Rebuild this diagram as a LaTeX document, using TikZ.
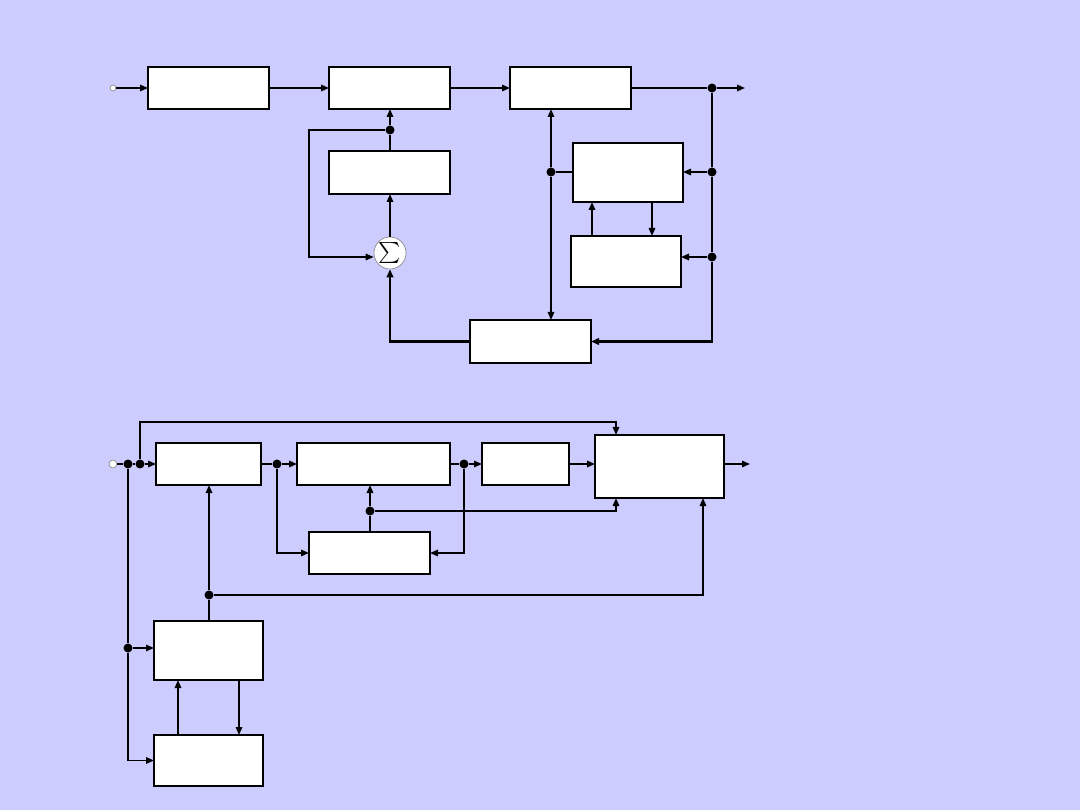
\documentclass[tikz,border=0pt]{standalone}
\usetikzlibrary{arrows.meta}
\usepackage{graphicx}
\definecolor{bg}{HTML}{CCCCFF}
\begin{document}
\begin{tikzpicture}[x=1pt,y=-1pt,
  box/.style={draw, fill=white, line width=1.5pt, inner sep=0pt, outer sep=0pt, anchor=north west},
  dot/.style={circle, fill=black, inner sep=0pt, minimum size=9pt},
  port/.style={circle, draw=gray, fill=white, line width=0.6pt, inner sep=0pt, minimum size=#1},
  port/.default=6pt,
  sig/.style={circle, draw=gray, fill=white, line width=0.6pt, inner sep=0pt, minimum size=32pt},
  ln/.style={line width=1.5pt},
  thk/.style={line width=2.3pt},
  arr/.style={ln, -{Triangle[length=8pt,width=6.5pt]}}]
\fill[bg] (0,0) rectangle (1080,810);
\useasboundingbox (0,0) rectangle (1080,810);

% ---------- top diagram ----------
\node[port] (in1) at (113,88) {};
\node[box, minimum width=121pt, minimum height=42pt] (A1) at (148,67) {};
\node[box, minimum width=121pt, minimum height=42pt] (A2) at (329,67) {};
\node[box, minimum width=121pt, minimum height=42pt] (A3) at (510,67) {};
\node[box, minimum width=121pt, minimum height=43pt] (A4) at (329,151) {};
\node[box, minimum width=110pt, minimum height=59pt] (A5) at (573,143) {};
\node[box, minimum width=110pt, minimum height=51pt] (A6) at (571,236) {};
\node[box, minimum width=121pt, minimum height=43pt] (A7) at (470,320) {};
\draw[thk] (A7.north west) -- (A7.north east);
\node[sig] (S) at (390,253) {\scalebox{2.1}{$\sum$}};
\node[dot] (D1) at (390,130) {};
\node[dot] (D3) at (712,88) {};
\node[dot] (D4) at (712,172) {};
\node[dot] (D5) at (712,257) {};
\node[dot] (D6) at (551,172) {};
\coordinate (out1) at (745,88);

\draw[arr] (in1) -- (A1.west);
\draw[arr] (A1.east) -- (A2.west);
\draw[arr] (A2.east) -- (A3.west);
\draw[ln] (A3.east) -- (D3);
\draw[arr] (D3) -- (out1);
\draw[ln] (D3) -- (D4) -- (D5);
\draw[arr, thk] (D5) |- (A7.east);
\draw[arr] (D4) -- (D4 -| A5.east);
\draw[arr] (D5) -- (D5 -| A6.east);
\draw[ln] (D6 -| A5.west) -- (D6);
\draw[arr] (D6) -- (D6 |- A3.south);
\draw[arr] (D6) -- (D6 |- A7.north);
\path ([xshift=21pt]A6.north west) coordinate (p1);
\draw[arr] (p1) -- (p1 |- A5.south);
\path ([xshift=79pt]A5.south west) coordinate (p2);
\draw[arr] (p2) -- (p2 |- A6.north);
\draw[ln] (D1 |- A4.north) -- (D1);
\draw[arr] (D1) -- (D1 |- A2.south);
\draw[arr] (D1) -- (309,130) -- (309,257) -- (S.west |- 0,257);
\draw[arr] (S.north) -- (S.north |- A4.south);
\draw[arr, thk] (A7.west) -| (S.south);

% ---------- bottom diagram ----------
\node[port=8pt] (in2) at (113,464) {};
\node[box, minimum width=105pt, minimum height=42pt] (B1) at (156,443) {};
\node[box, minimum width=153pt, minimum height=42pt] (B2) at (297,443) {};
\node[box, minimum width=87pt, minimum height=42pt] (B3) at (482,443) {};
\node[box, minimum width=129pt, minimum height=63pt] (B4) at (595,435) {};
\draw[thk] (B4.north west) -- (B4.north east);
\node[box, minimum width=121pt, minimum height=42pt] (B5) at (309,532) {};
\node[box, minimum width=109pt, minimum height=59pt] (B6) at (154,621) {};
\node[box, minimum width=109pt, minimum height=51pt] (B7) at (154,735) {};
\draw[thk] (B7.south west) -- (B7.south east);
\node[dot] (E1) at (128,464) {};
\node[dot] (E2) at (140,464) {};
\node[dot] (E3) at (277,464) {};
\node[dot] (E4) at (464,464) {};
\node[dot] (E5) at (370,511) {};
\node[dot] (E6) at (209,595) {};
\node[dot] (E7) at (128,648) {};
\coordinate (out2) at (750,464);

\draw[ln] (in2) -- (E1) -- (E2);
\draw[arr] (E2) -- (B1.west);
\draw[arr] (E2) -- (140,422) -| ([xshift=21pt]B4.north west);
\draw[ln] (B1.east) -- (E3);
\draw[arr] (E3) -- (B2.west);
\draw[arr] (E3) |- (B5.west);
\draw[ln] (B2.east) -- (E4);
\draw[arr] (E4) -- (B3.west);
\draw[arr] (E4) |- (B5.east);
\draw[arr] (B3.east) -- (B3.east -| B4.west);
\draw[arr] (B3.east -| B4.east) -- (out2);
\draw[ln] (E5 |- B5.north) -- (E5);
\draw[arr] (E5) -- (E5 |- B2.south);
\draw[arr] (E5) -| ([xshift=21pt]B4.south west);
\draw[ln] (E6 |- B6.north) -- (E6);
\draw[arr] (E6) -- (E6 |- B1.south);
\draw[arr] (E6) -| ([xshift=108pt]B4.south west);
\draw[ln] (E1) -- (E7);
\draw[arr] (E7) -- (E7 -| B6.west);
\draw[arr] (E7) |- (B7.west);
\draw[arr] ([xshift=24pt]B7.north west) -- ([xshift=24pt]B6.south west);
\draw[arr] ([xshift=85pt]B6.south west) -- ([xshift=85pt]B7.north west);
\end{tikzpicture}
\end{document}
